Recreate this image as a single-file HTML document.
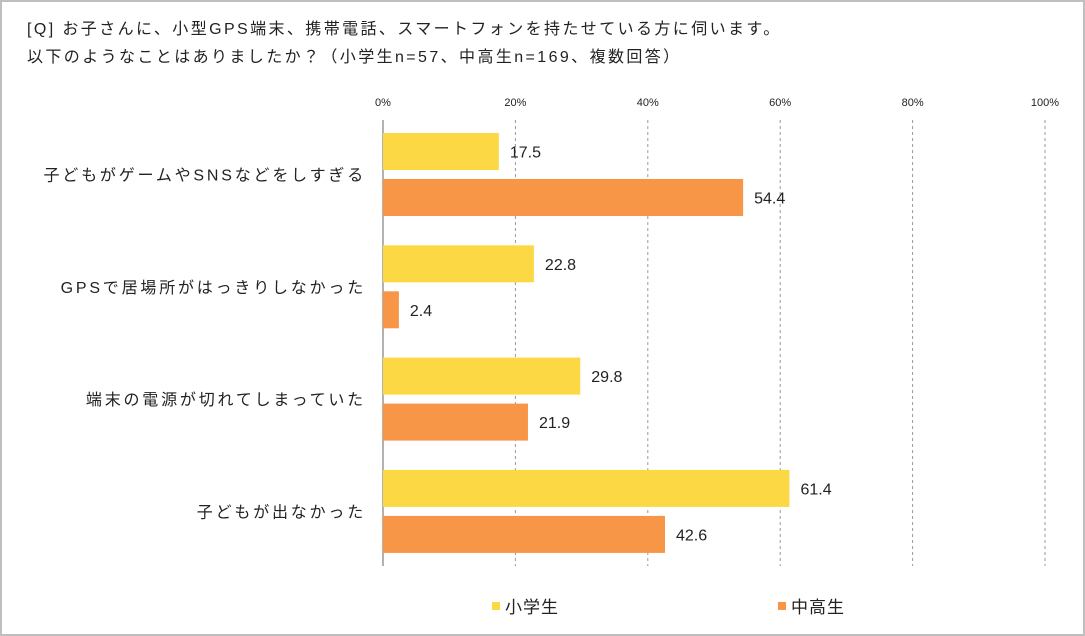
<!DOCTYPE html>
<html><head><meta charset="utf-8"><style>
html,body{margin:0;padding:0;background:#fff;}
#wrap{position:relative;width:1085px;height:636px;overflow:hidden;font-family:"Liberation Sans","Noto Sans CJK JP",sans-serif;}
#frame{position:absolute;left:0;top:0;width:1081px;height:632px;border:2px solid #bfbfbf;}
.t{position:absolute;left:27px;font-size:16px;color:#222;white-space:nowrap;letter-spacing:2.4px;}
</style></head><body>
<div id="wrap">
<div id="frame"></div>
<div class="t" style="top:15px">[Q] お子さんに、小型GPS端末、携帯電話、スマートフォンを持たせている方に伺います。</div>
<div class="t" style="top:43px">以下のようなことはありましたか？（小学生n=57、中高生n=169、複数回答）</div>
<svg id="chart" width="1085" height="636" style="position:absolute;left:0;top:0"></svg>
</div>
<script>
const categories=["子どもがゲームやSNSなどをしすぎる","GPSで居場所がはっきりしなかった","端末の電源が切れてしまっていた","子どもが出なかった"];
const elementary=[17.5,22.8,29.8,61.4];
const secondary=[54.4,2.4,21.9,42.6];
const ticks=[0,20,40,60,80,100];
const seriesNames=["小学生","中高生"];
const colors=["#fcd944","#f79646"];
const NS="http://www.w3.org/2000/svg";
const svg=document.getElementById('chart');
const x0=383,x1=1045,yTop=120,yBottom=566;
const xs=v=>x0+(x1-x0)*v/100;
function mk(tag,attrs){const e=document.createElementNS(NS,tag);for(const k in attrs)e.setAttribute(k,attrs[k]);svg.appendChild(e);return e;}
ticks.forEach((t,i)=>{
  if(t>0){const g=mk('line',{x1:xs(t),x2:xs(t),y1:yTop,y2:yBottom,stroke:'#999','stroke-dasharray':'3,3','stroke-width':1});
  
  }
  const l=mk('text',{x:xs(t),y:106,'font-size':11,'text-anchor':'middle',fill:'#222'});
  l.textContent=t+'%';
  
  
});
const ax=mk('line',{x1:x0,x2:x0,y1:yTop,y2:yBottom,stroke:'#999','stroke-width':1.5});


const band=112.3;
const firstBar=133;
const bh=37, gap=9;
categories.forEach((c,i)=>{
  const yb=firstBar+band*i;
  const cy=yb+bh+gap/2;
  const lab=mk('text',{x:366,y:cy+6,'font-size':16,'text-anchor':'end',fill:'#222','letter-spacing':'2.8'});
  lab.textContent=c;
  
  
  [elementary,secondary].forEach((arr,s)=>{
    const y=s===0?yb:yb+bh+gap;
    const r=mk('rect',{x:x0,y:y,width:xs(arr[i])-x0,height:bh,fill:colors[s]});
    
    
    const v=mk('text',{x:xs(arr[i])+11,y:y+bh/2+6,'font-size':16,fill:'#222'});
    v.textContent=arr[i].toFixed(1);
    
    
  });
});
const legX=[492,778];
seriesNames.forEach((n,s)=>{
  const sq=mk('rect',{x:legX[s],y:602,width:8,height:8,fill:colors[s]});
  
  
  const t=mk('text',{x:legX[s]+13,y:613,'font-size':17,fill:'#222','letter-spacing':'1'});
  t.textContent=n;
  
  
});
</script>
</body></html>
